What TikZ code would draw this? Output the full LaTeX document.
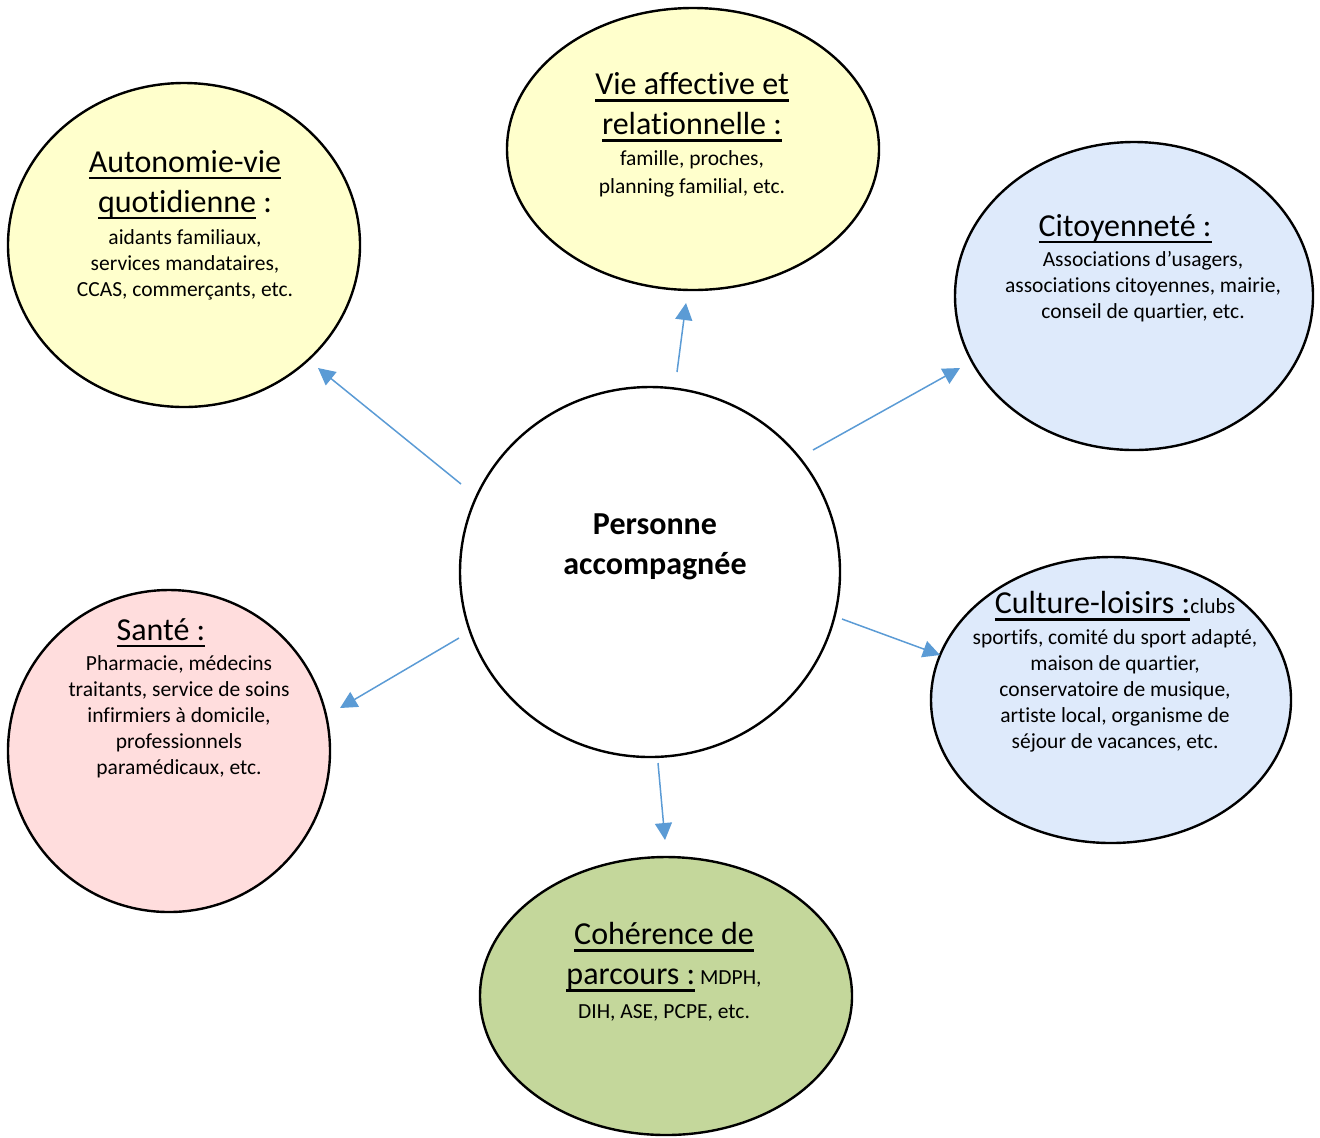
\documentclass[tikz,border=0pt]{standalone}
\usepackage{fontspec}
\setmainfont[Ligatures=NoCommon]{Carlito}
\usepackage{tikz}
\usetikzlibrary{shapes.geometric,arrows.meta}
\definecolor{bubbleYellow}{RGB}{255,255,204}
\definecolor{bubbleBlue}{RGB}{222,234,251}
\definecolor{bubblePink}{RGB}{255,221,221}
\definecolor{bubbleGreen}{RGB}{196,215,155}
\definecolor{linkBlue}{RGB}{91,155,213}
\newcommand\titlesize{\fontsize{16}{20}\selectfont}
\newcommand\bodysize{\fontsize{10.75}{13}\selectfont\lineskiplimit=-20pt\relax}
% thick underline as in the original
\newcommand\ul[1]{\setbox0\hbox{#1}\rlap{\vrule height -2.3pt depth 3.5pt width \wd0}\box0\relax}

\begin{document}
\begin{tikzpicture}[
  x=0.5pt, y=-0.5pt,
  bubble/.style={
    ellipse,
    draw=black,
    line width=1.2pt,
    inner sep=0pt
  },
  txt/.style={
    align=center,
    font=\bodysize,
    inner sep=0pt
  },
  link/.style={
    draw=linkBlue,
    line width=0.75pt,
    -{Triangle[length=8.5pt,width=8.5pt]}
  }
]
\useasboundingbox (0,0) rectangle (1320,1137);
% bubbles
\node[bubble,fill=bubbleYellow,minimum width=176pt,minimum height=162pt] (auto) at (184,245) {};
\node[bubble,fill=bubbleYellow,minimum width=186pt,minimum height=141pt] (vie) at (693,149) {};
\node[bubble,fill=bubbleBlue,minimum width=179pt,minimum height=154pt] (cito) at (1134,296) {};
\node[bubble,fill=bubbleBlue,minimum width=180pt,minimum height=143pt] (culture) at (1111,700) {};
\node[bubble,fill=bubblePink,minimum width=161pt,minimum height=161pt] (sante) at (169,751) {};
\node[bubble,fill=bubbleGreen,minimum width=186pt,minimum height=139pt] (parcours) at (666,996) {};
\node[bubble,fill=white,minimum width=190pt,minimum height=185pt] (personne) at (650,572) {};
% texts
\node[txt] (autoTxt) at (185,225) {{\titlesize\ul{Autonomie-vie}}\\[7pt]{\titlesize\ul{quotidienne} :}\\[3pt]aidants familiaux,\\services mandataires,\\CCAS, commerçants, etc.};
\node[txt] (vieTxt) at (692,135) {{\titlesize\ul{Vie affective et}}\\[7pt]{\titlesize\ul{relationnelle :}}\\[2.5pt]famille, proches,\\[1pt]planning familial, etc.};
\node[txt] (citoTxt) at (1143,268) {{\titlesize\ul{Citoyenneté :}}\hspace*{18pt}\\[2pt]Associations d’usagers,\\associations citoyennes, mairie,\\conseil de quartier, etc.};
\node[txt] (cultureTxt) at (1115,672) {{\titlesize\ul{Culture-loisirs :}}clubs\\[2.5pt]sportifs, comité du sport adapté,\\maison de quartier,\\conservatoire de musique,\\artiste local, organisme de\\séjour de vacances, etc.};
\node[txt] (santeTxt) at (179,698) {{\titlesize\ul{Santé :}}\hspace*{18pt}\\[2pt]Pharmacie, médecins\\traitants, service de soins\\infirmiers à domicile,\\professionnels\\paramédicaux, etc.};
\node[txt] (parcoursTxt) at (664,972) {{\titlesize\ul{Cohérence de}}\\[7pt]{\titlesize\ul{parcours :}} MDPH,\\[4pt]DIH, ASE, PCPE, etc.};
\node[txt,font=\titlesize\bfseries] (personneTxt) at (655,547) {Personne\\accompagnée};
% links
\coordinate (autoFrom) at (461,484);
\coordinate (autoTo) at (318,368);
\coordinate (vieFrom) at (677,372);
\coordinate (vieTo) at (686,303);
\coordinate (citoFrom) at (813,450);
\coordinate (citoTo) at (960,368);
\coordinate (cultureFrom) at (842,619);
\coordinate (cultureTo) at (940,655);
\coordinate (parcoursFrom) at (658,763);
\coordinate (parcoursTo) at (665,840);
\coordinate (santeFrom) at (459,638);
\coordinate (santeTo) at (340,708);
\draw[link] (autoFrom) -- (autoTo);
\draw[link] (vieFrom) -- (vieTo);
\draw[link] (citoFrom) -- (citoTo);
\draw[link] (cultureFrom) -- (cultureTo);
\draw[link] (parcoursFrom) -- (parcoursTo);
\draw[link] (santeFrom) -- (santeTo);
\end{tikzpicture}
\end{document}
